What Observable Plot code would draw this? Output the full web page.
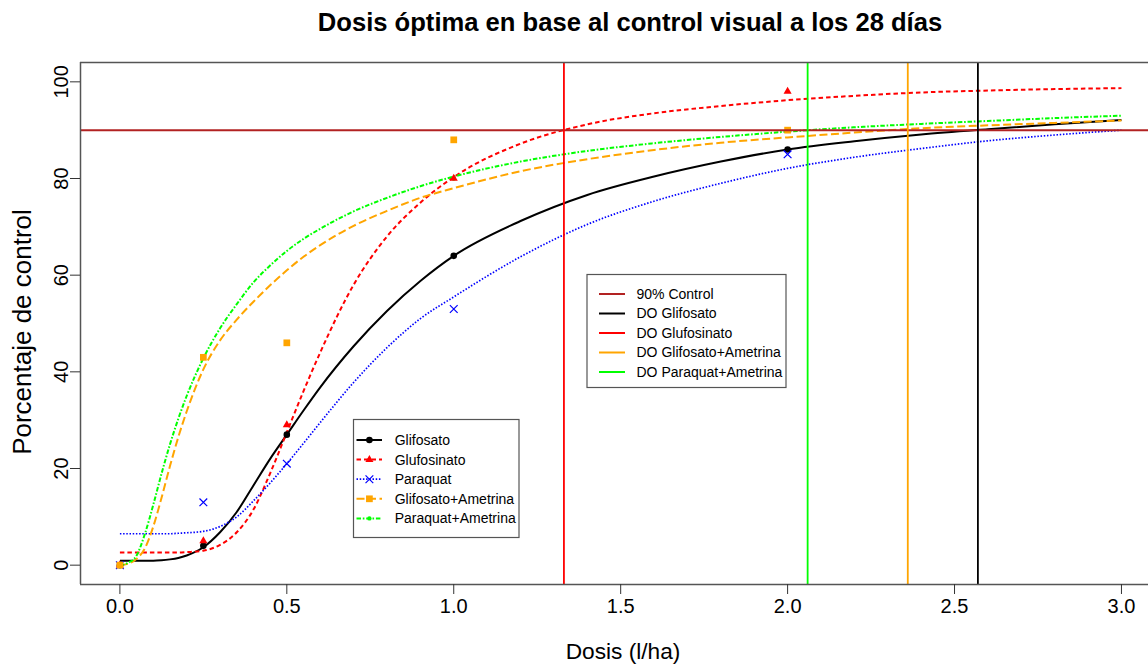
<!DOCTYPE html>
<html><head><meta charset="utf-8">
<script src="https://cdn.jsdelivr.net/npm/d3@7"></script>
<script src="https://cdn.jsdelivr.net/npm/@observablehq/plot@0.6"></script>
<style>body{margin:0;background:#fff;} #chart{width:1148px;height:668px;}</style>
</head><body><div id="chart"></div>
<script>
// ---- Data ----
const seriesNames = ["Glifosato", "Glufosinato", "Paraquat", "Glifosato+Ametrina", "Paraquat+Ametrina"];
const doses = [0, 0.25, 0.5, 1, 2];
const obsGlifosato = [0, 4, 27, 64, 86];
const obsGlufosinato = [0, 5, 29, 80, 98];
const obsParaquat = [0, 13, 21, 53, 85];
const obsGlifAmetrina = [0, 43, 46, 88, 90];
const obsParaqAmetrina = [0, 43, 46, 80, 90];

const curveDose = [0, 0.025, 0.05, 0.075, 0.1, 0.125, 0.15, 0.175, 0.2, 0.25, 0.3, 0.35, 0.4, 0.45, 0.5, 0.55, 0.6, 0.7, 0.8, 0.9, 1.0, 1.2, 1.4, 1.6, 1.8, 2.0, 2.2, 2.4, 2.6, 2.8, 3.0];
const fitGlifosato = [0.9, 0.9, 0.9, 0.9, 0.9, 1.0, 1.2, 1.5, 2.0, 3.7, 6.8, 11.0, 16.5, 22.0, 27.0, 32.0, 36.8, 45.3, 52.6, 58.8, 64.0, 71.2, 76.6, 80.4, 83.5, 86.0, 87.7, 89.1, 90.2, 91.2, 92.1];
const fitGlufosinato = [2.6, 2.6, 2.6, 2.6, 2.6, 2.6, 2.6, 2.6, 2.7, 3.0, 4.2, 6.8, 11.5, 19.0, 27.5, 36.0, 44.0, 58.0, 68.0, 75.0, 80.3, 87.2, 91.2, 93.5, 95.0, 96.2, 97.1, 97.8, 98.2, 98.5, 98.7];
const fitParaquat = [6.5, 6.5, 6.5, 6.5, 6.5, 6.5, 6.5, 6.6, 6.7, 7.0, 8.0, 10.0, 13.3, 17.0, 21.0, 25.2, 29.5, 37.8, 45.0, 51.0, 55.5, 63.8, 70.5, 75.3, 79.0, 82.1, 84.4, 86.2, 87.8, 89.0, 90.0];
const fitGlifAmetrina = [0, 0.3, 1.3, 3.5, 8.0, 14.0, 20.5, 26.5, 31.8, 40.5, 46.5, 50.8, 54.5, 57.9, 61.0, 63.8, 66.2, 70.2, 73.3, 76.0, 78.0, 81.5, 84.0, 85.9, 87.4, 88.5, 89.5, 90.4, 91.0, 91.5, 92.0];
const fitParaqAmetrina = [0, 0.5, 2.0, 6.5, 12.5, 19.0, 25.0, 30.3, 35.0, 42.8, 49.0, 54.0, 58.5, 62.0, 65.0, 67.5, 69.6, 73.2, 76.0, 78.4, 80.4, 83.5, 85.7, 87.3, 88.6, 89.7, 90.6, 91.3, 91.9, 92.5, 93.0];

const controlLabel = ["90% Control"];
const controlLevel = [90];
const optimalLabels = ["DO Glifosato", "DO Glufosinato", "DO Glifosato+Ametrina", "DO Paraquat+Ametrina"];
const optimalDose = [2.57, 1.33, 2.36, 2.06];

const xTicks = [0, 0.5, 1, 1.5, 2, 2.5, 3];
const yTicks = [0, 20, 40, 60, 80, 100];
const titleText = "Dosis óptima en base al control visual a los 28 días";
const xTitle = "Dosis (l/ha)";
const yTitle = "Porcentaje de control";

// ---- Styles ----
const FONT = "'Liberation Sans', Arial, Helvetica, sans-serif";
const seriesStyle = {
  "Glifosato":          {color: "#000000", dash: null,            width: 2,   symbol: "circle",   r: 3.3, fill: true},
  "Glufosinato":        {color: "#ff0000", dash: "4.5,3",         width: 2,   symbol: "triangle", r: 3.0, fill: true},
  "Paraquat":           {color: "#0000ff", dash: "1.5,1.7",       width: 1.7, symbol: "times",    r: 3.6, fill: false},
  "Glifosato+Ametrina": {color: "#ffa500", dash: "8,3.5",         width: 2,   symbol: "square",   r: 3.8, fill: true},
  "Paraquat+Ametrina":  {color: "#00ff00", dash: "4.5,1.8,1.6,1.8", width: 2, symbol: "circle",   r: 2.2, fill: true}
};
const optimalColors = ["#000000", "#ff0000", "#ffa500", "#00ff00"];
const controlColor = "#b22222";

const obs = [obsGlifosato, obsGlufosinato, obsParaquat, obsGlifAmetrina, obsParaqAmetrina];
const fits = [fitGlifosato, fitGlufosinato, fitParaquat, fitGlifAmetrina, fitParaqAmetrina];

const curveRows = seriesNames.map((s, i) => curveDose.map((d, j) => ({series: s, dose: d, pct: fits[i][j]})));
const pointRows = seriesNames.map((s, i) => doses.map((d, j) => ({series: s, dose: d, pct: obs[i][j]})));
const optimalRows = optimalLabels.map((l, i) => ({label: l, dose: optimalDose[i], color: optimalColors[i]}));

const xMin = -0.118, xMax = 3.081, yMin = -4, yMax = 104;

const lineMarks = seriesNames.map((s, i) => {
  const st = seriesStyle[s];
  return Plot.line(curveRows[i], {x: "dose", y: "pct", stroke: st.color, strokeWidth: st.width,
    strokeDasharray: st.dash || undefined, strokeLinecap: "butt", strokeLinejoin: "round", curve: "monotone-x"});
});
const pointOrder = [4, 0, 1, 2, 3];
const dotMarks = pointOrder.map(i => {
  const st = seriesStyle[seriesNames[i]];
  return st.fill
    ? Plot.dot(pointRows[i], {x: "dose", y: "pct", symbol: st.symbol, r: st.r, fill: st.color, stroke: "none"})
    : Plot.dot(pointRows[i], {x: "dose", y: "pct", symbol: st.symbol, r: st.r, stroke: st.color, strokeWidth: 1.2, fill: "none"});
});

const chart = Plot.plot({
  width: 1148, height: 668,
  marginLeft: 80, marginRight: 0, marginTop: 62, marginBottom: 84,
  x: {domain: [xMin, xMax]},
  y: {domain: [yMin, yMax]},
  style: {fontFamily: FONT, background: "#fff", color: "#000", overflow: "visible"},
  marks: [
    ...lineMarks,
    ...dotMarks,
    Plot.ruleY(controlLevel, {stroke: controlColor, strokeWidth: 2}),
    Plot.ruleX(optimalRows, {x: "dose", stroke: "color", strokeWidth: 1.8}),
    Plot.ruleY([yMin, yMax], {stroke: "#555", strokeWidth: 1.5}),
    Plot.ruleX([xMin], {stroke: "#555", strokeWidth: 1.5}),
    Plot.axisX(xTicks, {tickFormat: d => d.toFixed(1), tickSize: 10, tickPadding: 4, fontSize: 20, label: null, stroke: "#333"}),
    Plot.axisY(yTicks, {tickSize: 10, tickRotate: -90, fontSize: 20, label: null, stroke: "#333"})
  ]
});
document.getElementById("chart").appendChild(chart);

// ---- Titles and legends (R-style) ----
const svg = d3.select(chart);
svg.append("text").attr("x", 630).attr("y", 31).attr("text-anchor", "middle")
  .style("font-family", FONT).style("font-size", "25.6px").style("font-weight", "bold").text(titleText);
svg.append("text").attr("x", 623).attr("y", 659).attr("text-anchor", "middle")
  .style("font-family", FONT).style("font-size", "22.7px").text(xTitle);
svg.append("text").attr("transform", "translate(31,332) rotate(-90)").attr("text-anchor", "middle")
  .style("font-family", FONT).style("font-size", "26px").text(yTitle);

function symbolPath(name, r) {
  const map = {circle: d3.symbolCircle, triangle: d3.symbolTriangle, square: d3.symbolSquare, times: d3.symbolTimes};
  return d3.symbol(map[name], Math.PI * r * r)();
}

// Legend of series
const lg1 = svg.append("g").attr("text-anchor", "start");
lg1.append("rect").attr("x", 353.5).attr("y", 419.5).attr("width", 165.5).attr("height", 118)
  .attr("fill", "#fff").attr("stroke", "#555").attr("stroke-width", 1.2);
seriesNames.forEach((s, i) => {
  const st = seriesStyle[s];
  const y = 440 + i * 19.6;
  lg1.append("line").attr("x1", 356.5).attr("x2", 382).attr("y1", y).attr("y2", y)
    .attr("stroke", st.color).attr("stroke-width", st.width).attr("stroke-dasharray", st.dash || null);
  lg1.append("path").attr("d", symbolPath(st.symbol, st.r)).attr("transform", `translate(369.4,${y})`)
    .attr("fill", st.fill ? st.color : "none").attr("stroke", st.fill ? "none" : st.color).attr("stroke-width", 1.2);
  lg1.append("text").attr("x", 394.7).attr("y", y).attr("dy", "0.35em").attr("text-anchor", "start")
    .style("font-family", FONT).style("font-size", "14px").text(s);
});

// Legend of optimal doses
const lg2 = svg.append("g").attr("text-anchor", "start");
lg2.append("rect").attr("x", 587).attr("y", 274.5).attr("width", 199).attr("height", 113)
  .attr("fill", "#fff").attr("stroke", "#555").attr("stroke-width", 1.2);
const lg2Rows = [{label: controlLabel[0], color: controlColor}, ...optimalRows];
lg2Rows.forEach((r, i) => {
  const y = 294 + i * 19.5;
  lg2.append("line").attr("x1", 599).attr("x2", 625).attr("y1", y).attr("y2", y)
    .attr("stroke", r.color).attr("stroke-width", 2);
  lg2.append("text").attr("x", 636.5).attr("y", y).attr("dy", "0.35em").attr("text-anchor", "start")
    .style("font-family", FONT).style("font-size", "14px").text(r.label);
});
</script>
</body></html>
